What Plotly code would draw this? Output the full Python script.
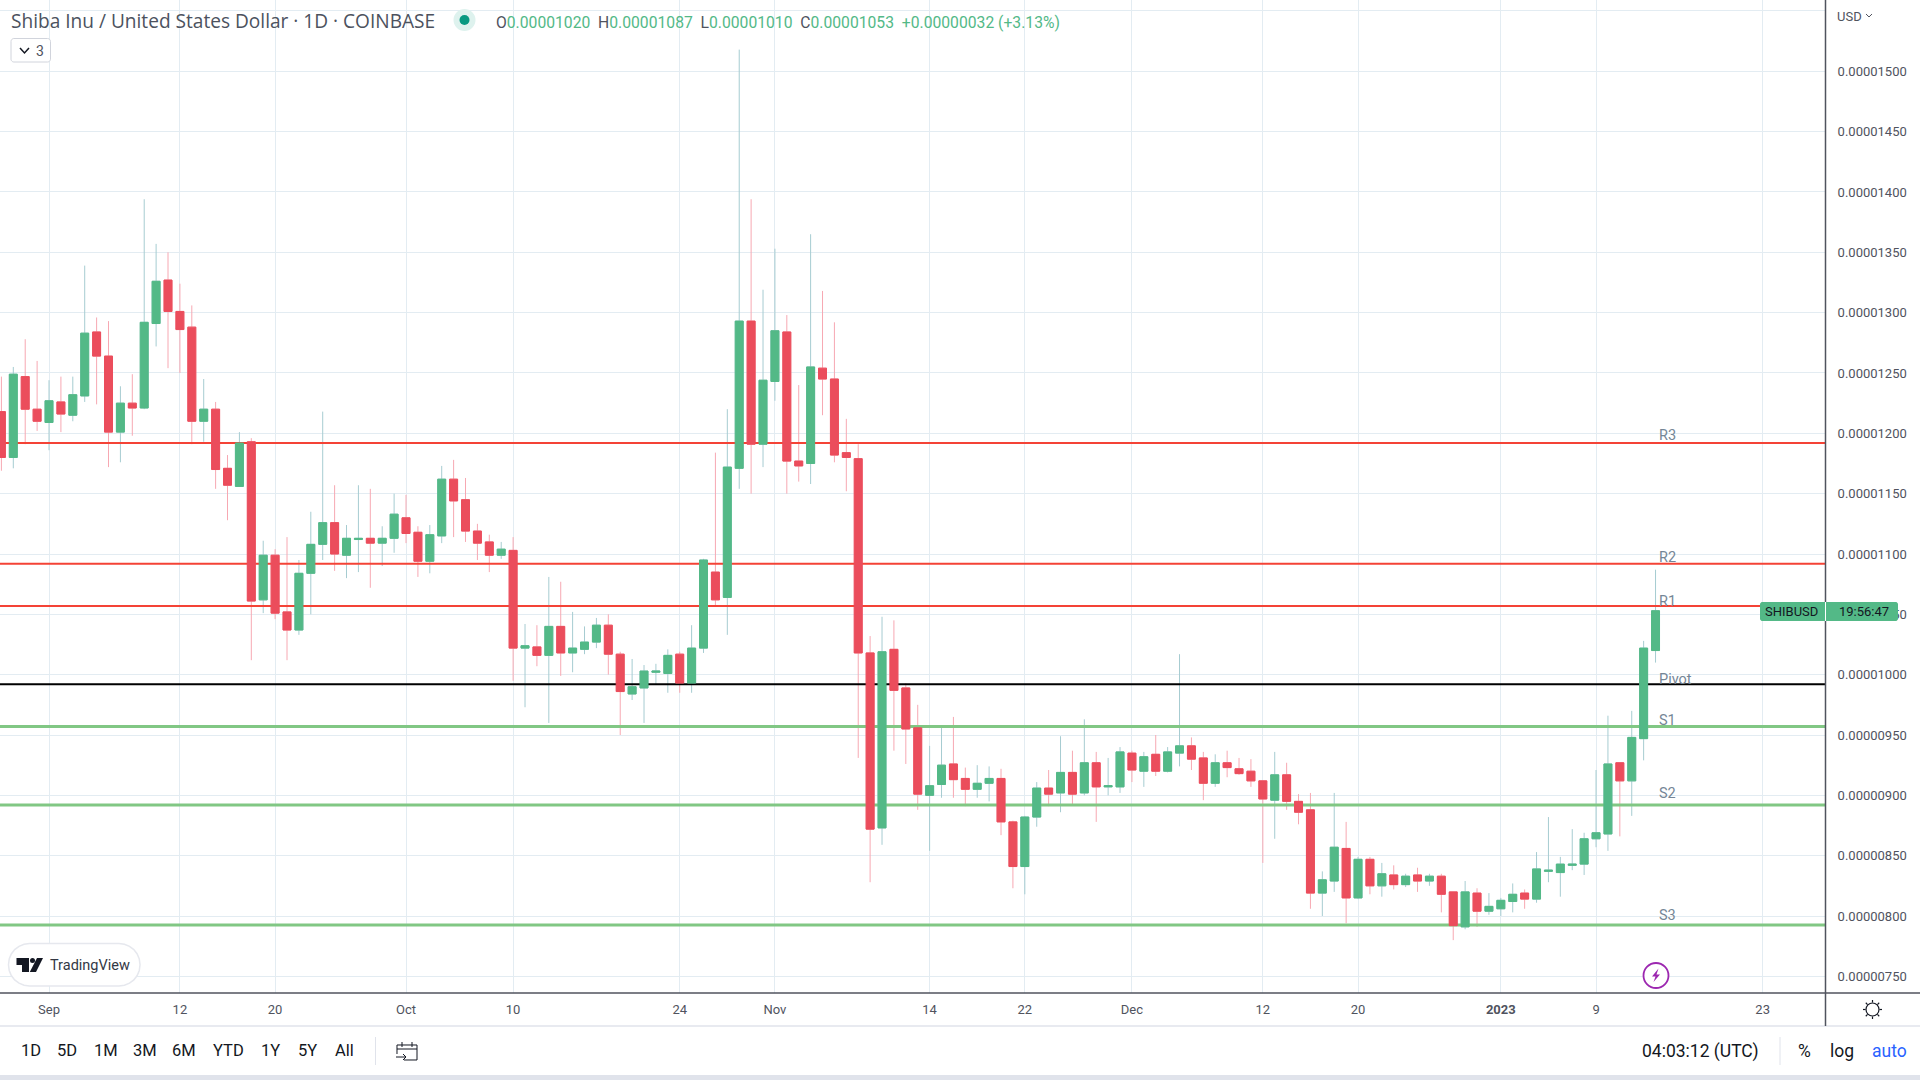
import math
import pandas as pd
import plotly.graph_objects as go

SCALE = 1e-8
FIRST_DAY = "2022-08-28"

opens = [1218,1180,1247,1220,1209,1226,1215,1231,1284,1264,1201,1225,1221,1291,1327,1301,1288,1210,1220,1171,1156,1193,
         1062,1099,1052,1037,1084,1108,1126,1099,1112,1113,1109,1113,1130,1118,1094,1115,1162,1145,1119,1110,1099,1103,
         1022,1023,1016,1040,1018,1021,1027,1041,1017,984,989,1002,1001,1017,993,1022,1085,1064,1171,1293,1191,1243,1284,
         1177,1175,1254,1245,1184,1179,1018,873,1021,989,956,900,909,926,914,905,910,914,878,841,882,906,902,919,902,927,
         907,907,935,920,934,920,935,941,931,910,927,922,920,912,896,917,895,888,819,829,856,815,847,825,834,826,834,829,
         833,820,791,819,804,806,812,819,814,837,836,842,843,864,868,927,912,947,1020]
highs = [1247,1255,1278,1260,1244,1247,1247,1339,1296,1293,1239,1249,1394,1357,1350,1324,1306,1245,1226,1182,1201,1196,
         1111,1104,1114,1095,1135,1218,1157,1124,1157,1154,1123,1150,1149,1123,1124,1173,1178,1163,1125,1116,1110,1114,
         1042,1041,1081,1077,1052,1040,1047,1050,1019,1013,1008,1009,1021,1019,1041,1096,1184,1220,1518,1394,1319,1353,1298,
         1240,1365,1318,1292,1212,1191,1032,1048,1045,993,975,941,956,965,923,925,924,922,879,883,911,921,949,937,963,936,
         931,940,937,936,950,940,1017,948,936,934,937,931,930,912,936,927,901,902,837,902,878,849,849,844,842,835,840,835,
         835,820,829,823,819,815,827,822,853,882,849,872,869,921,966,927,970,1028,1087]
lows = [1169,1171,1191,1202,1186,1201,1210,1226,1224,1172,1176,1198,1220,1272,1254,1250,1191,1193,1154,1128,1156,1012,
        1051,1046,1012,1033,1050,1095,1086,1080,1085,1072,1090,1101,1109,1081,1084,1109,1114,1110,1095,1085,1096,995,
        973,1007,960,999,1002,1017,1022,1000,950,979,960,992,985,985,985,1018,1057,1033,1154,1150,1172,1227,1150,
        1160,1158,1215,1176,1152,931,828,859,937,926,888,854,898,898,891,898,895,867,823,818,874,891,886,892,900,878,
        900,902,911,907,916,919,924,921,896,907,915,917,907,844,864,888,876,806,800,820,794,814,818,816,822,824,820,825,
        803,780,789,791,801,800,803,806,811,828,816,838,834,857,854,866,883,929,1010]
closes = [1180,1249,1220,1210,1227,1216,1232,1283,1264,1201,1225,1221,1292,1326,1301,1286,1210,1220,1170,1157,1192,1061,
          1099,1051,1037,1084,1108,1126,1100,1113,1113,1109,1113,1133,1117,1094,1116,1162,1144,1119,1109,1099,1104,1022,
          1024,1016,1040,1018,1022,1027,1041,1017,986,990,1003,1003,1016,993,1022,1095,1062,1172,1293,1191,1244,1285,1177,
          1173,1255,1245,1182,1180,1018,872,1019,987,955,901,908,925,913,905,910,914,878,841,882,906,901,919,901,927,907,
          908,936,921,932,920,936,941,930,910,927,923,918,912,897,917,895,886,819,830,857,815,847,825,835,826,833,829,833,
          818,792,820,804,808,813,818,814,839,838,843,843,864,869,926,912,948,1022,1053]

level_names = ["R3", "R2", "R1", "Pivot", "S1", "S2", "S3"]
level_values = [1192, 1092, 1057, 992, 957, 892, 792.5]
level_colors = ["#f44336", "#f44336", "#f44336", "#000000", "#81c784", "#81c784", "#81c784"]
level_widths = [2, 2, 2, 2, 3, 3, 3]
level_label_y = [435, 557, 601, 679, 720, 793, 915]

y_tick_values = [750, 800, 850, 900, 950, 1000, 1050, 1100, 1150, 1200, 1250, 1300, 1350, 1400, 1450, 1500, 1550]
y_tick_labels = ["0.00000750", "0.00000800", "0.00000850", "0.00000900", "0.00000950", "0.00001000", "0.00001050",
                 "0.00001100", "0.00001150", "0.00001200", "0.00001250", "0.00001300", "0.00001350", "0.00001400",
                 "0.00001450", "0.00001500", ""]
x_tick_dates = ["2022-09-01", "2022-09-12", "2022-09-20", "2022-10-01", "2022-10-10", "2022-10-24", "2022-11-01",
                "2022-11-14", "2022-11-22", "2022-12-01", "2022-12-12", "2022-12-20", "2023-01-01", "2023-01-09",
                "2023-01-23"]
x_tick_labels = ["Sep", "12", "20", "Oct", "10", "24", "Nov", "14", "22", "Dec", "12", "20", "<b>2023</b>", "9", "23"]
range_buttons = ["1D", "5D", "1M", "3M", "6M", "YTD", "1Y", "5Y", "All"]
range_button_x = [30.6, 67, 106, 145, 184, 228, 270, 307, 344]

X_RANGE = ["2022-08-27 21:10", "2023-01-28 05:46"]
Y_RANGE = [736.2 * SCALE, 1559.1 * SCALE]

GREEN, RED = "#53b987", "#eb4d5c"
GREEN_WICK, RED_WICK = "#a6ccd1", "#f7a8b2"
GRID, AXIS, TEXT = "#e3ecf2", "#50535e", "#50535e"
FONT = "Roboto"

W, H = 1920, 1080
PX = lambda v: v / W
PY = lambda v: 1 - v / H

dates = pd.date_range(FIRST_DAY, periods=len(opens), freq="D")
o = [v * SCALE for v in opens]
h = [v * SCALE for v in highs]
l = [v * SCALE for v in lows]
c = [v * SCALE for v in closes]
body_high = [max(a, b) for a, b in zip(o, c)]
body_low = [min(a, b) for a, b in zip(o, c)]

fig = go.Figure()

# wicks (below the level lines)
fig.add_trace(go.Candlestick(
    x=dates, open=o, high=h, low=l, close=c, whiskerwidth=0, hoverinfo="skip", showlegend=False,
    increasing=dict(line=dict(color=GREEN_WICK, width=1), fillcolor="rgba(0,0,0,0)"),
    decreasing=dict(line=dict(color=RED_WICK, width=1), fillcolor="rgba(0,0,0,0)"),
    xaxis="x", yaxis="y"))

# pivot levels
for name, val, col, lw in zip(level_names, level_values, level_colors, level_widths):
    fig.add_trace(go.Scatter(x=X_RANGE, y=[val * SCALE, val * SCALE], mode="lines", hoverinfo="skip",
                             showlegend=False, line=dict(color=col, width=lw), name=name,
                             xaxis="x", yaxis="y"))

# bodies (on top of everything, on an overlaid subplot)
fig.add_trace(go.Candlestick(
    x=dates, open=o, high=body_high, low=body_low, close=c, whiskerwidth=0, hoverinfo="skip", showlegend=False,
    increasing=dict(line=dict(color=GREEN, width=1), fillcolor=GREEN),
    decreasing=dict(line=dict(color=RED, width=1), fillcolor=RED),
    xaxis="x2", yaxis="y2"))

shapes = []
def rect(x0, y0, x1, y1, fill, line=None, lw=0):
    shapes.append(dict(type="rect", xref="paper", yref="paper", x0=PX(x0), x1=PX(x1), y0=PY(y0), y1=PY(y1),
                       fillcolor=fill, line=dict(color=line or fill, width=lw), layer="above"))
def segment(x0, y0, x1, y1, col, lw=1):
    shapes.append(dict(type="line", xref="paper", yref="paper", x0=PX(x0), x1=PX(x1), y0=PY(y0), y1=PY(y1),
                       line=dict(color=col, width=lw), layer="above"))
def circle(cx, cy, r, fill, line=None, lw=0):
    shapes.append(dict(type="circle", xref="paper", yref="paper", x0=PX(cx - r), x1=PX(cx + r),
                       y0=PY(cy + r), y1=PY(cy - r), fillcolor=fill, line=dict(color=line or fill, width=lw),
                       layer="above"))
def poly(points, fill="rgba(0,0,0,0)", line=None, lw=0, close=True):
    d = "M" + " L".join(f"{PX(x):.5f},{PY(y):.5f}" for x, y in points) + (" Z" if close else "")
    shapes.append(dict(type="path", xref="paper", yref="paper", path=d, fillcolor=fill,
                       line=dict(color=line or "rgba(0,0,0,0)", width=lw), layer="above"))
def rrect(x0, y0, x1, y1, r, fill, line=None, lw=0):
    pts = []
    corners = [(x1 - r, y0 + r, -90), (x1 - r, y1 - r, 0), (x0 + r, y1 - r, 90), (x0 + r, y0 + r, 180)]
    for cx, cy, a0 in corners:
        for k in range(7):
            a = math.radians(a0 + 15 * k)
            pts.append((cx + r * math.cos(a), cy + r * math.sin(a)))
    poly(pts, fill, line, lw)

# frame lines and bottom bars
segment(0, 993, 1920, 993, AXIS, 1.5)
segment(0, 1026, 1920, 1026, "#e0e3eb", 1.5)
segment(1825.5, 0, 1825.5, 1026, AXIS, 1.5)
rect(0, 1075, 1920, 1080, "#e0e3eb")
segment(375.5, 1037, 375.5, 1065, "#e0e3eb", 1)
segment(1780, 1037, 1780, 1065, "#e0e3eb", 1)

# status dot and legend toggle
circle(464.5, 20, 11, "#def2ee")
circle(464.5, 20, 5, "#089981")
rrect(11, 38.5, 50.5, 62, 3, "#ffffff", "#d1d4dc", 1)
poly([(20, 48), (24.5, 53), (29, 48)], line="#131722", lw=1.5, close=False)

# watermark pill with logo
rrect(8.5, 943.5, 140, 986, 21, "#ffffff", "#e6e8ee", 1.5)
poly([(16.5, 958), (29, 958), (29, 972), (22, 972), (22, 965), (16.5, 965)], fill="#131722")
circle(32.5, 960.5, 2.5, "#131722")
poly([(37, 958), (43, 958), (36, 972), (29.8, 972)], fill="#131722")

# price tag
rrect(1760, 602, 1898, 621, 2.5, GREEN)
segment(1825.5, 602, 1825.5, 621, "#ffffff", 1)

# alert icon
circle(1656, 975.5, 12.5, "#ffffff", "#9c27b0", 1.8)
poly([(1658.5, 968.5), (1652, 976.5), (1655.5, 976.5), (1653.5, 982), (1660, 974.5), (1656.5, 974.5)], fill="#9c27b0")

# USD chevron and settings icon
poly([(1866, 14), (1869, 17), (1872, 14)], line=TEXT, lw=1, close=False)
circle(1872.5, 1009.5, 6.5, "#ffffff", "#131722", 1.2)
for k in range(8):
    a = math.radians(45 * k)
    segment(1872.5 + 7 * math.cos(a), 1009.5 + 7 * math.sin(a),
            1872.5 + 9.5 * math.cos(a), 1009.5 + 9.5 * math.sin(a), "#131722", 1.2)

# calendar icon
poly([(397, 1054), (397, 1045), (417, 1045), (417, 1060), (404, 1060)], line="#131722", lw=1, close=False)
segment(397, 1049, 417, 1049, "#131722", 1)
segment(402, 1042, 402, 1047, "#131722", 1)
segment(412, 1042, 412, 1047, "#131722", 1)
segment(396, 1057, 406, 1057, "#131722", 1)
poly([(403, 1054), (406, 1057), (403, 1060)], line="#131722", lw=1, close=False)

ann = []
def text(x, y, s, size=13, color=TEXT, anchor="center", family=FONT):
    ann.append(dict(xref="paper", yref="paper", x=PX(x), y=PY(y), text=s, showarrow=False, xanchor=anchor,
                    yanchor="middle", font=dict(family=family, size=size, color=color), borderpad=0, borderwidth=0))

text(11, 20.5, "Shiba Inu / United States Dollar · 1D · COINBASE", size=19.1, color="#4c525e", anchor="left",
     family="Open Sans")
g = lambda v: f'<span style="color:#53b987">{v}</span>'
text(496, 22.5, "O" + g("0.00001020") + " &nbsp;H" + g("0.00001087") + " &nbsp;L" + g("0.00001010")
     + " &nbsp;C" + g("0.00001053") + " &nbsp;" + g("+0.00000032 (+3.13%)"), size=15.7, color="#50535e", anchor="left")
text(40, 50.5, "3", size=14, color="#50535e")
text(50, 965, "TradingView", size=14.5, color="#333844", anchor="left")
text(1837, 16, "USD", size=13, color=TEXT, anchor="left")
text(1791.5, 611.5, "SHIBUSD", size=13, color="#131722")
text(1864, 611.5, "19:56:47", size=13, color="#131722")
for lbl, x in zip(range_buttons, range_button_x):
    text(x, 1050.5, lbl, size=16.5, color="#131722")
text(1700, 1051, "04:03:12 (UTC)", size=17.5, color="#131722")
text(1804, 1051, "%", size=17.5, color="#131722")
text(1842, 1051, "log", size=17.5, color="#131722")
text(1889, 1051, "auto", size=17.5, color="#2962ff")

for name, ly in zip(level_names, level_label_y):
    text(1658.5, ly, name, size=14.5, color="#758696", anchor="left")

DOMAIN_X = [0, PX(1825)]
DOMAIN_Y = [PY(993), 1]

fig.update_layout(
    width=W, height=H, autosize=False,
    margin=dict(l=0, r=0, t=0, b=0, pad=0),
    paper_bgcolor="#ffffff", plot_bgcolor="#ffffff",
    showlegend=False, hovermode=False, boxgap=0.33, boxgroupgap=0,
    shapes=shapes, annotations=ann,
    xaxis=dict(domain=DOMAIN_X, anchor="y", type="date", range=X_RANGE, rangeslider=dict(visible=False),
               tickmode="array", tickvals=x_tick_dates, ticktext=x_tick_labels, showgrid=True, gridcolor=GRID,
               gridwidth=1, zeroline=False, showline=False, ticks="outside", ticklen=4, tickcolor="rgba(0,0,0,0)",
               tickfont=dict(family=FONT, size=13, color=TEXT), fixedrange=True, automargin=False),
    xaxis2=dict(domain=DOMAIN_X, overlaying="x", matches="x", anchor="y2", type="date", visible=False,
                rangeslider=dict(visible=False)),
    yaxis=dict(domain=DOMAIN_Y, anchor="x", side="right", range=Y_RANGE, tickmode="array",
               tickvals=[v * SCALE for v in y_tick_values], ticktext=y_tick_labels, showgrid=True, gridcolor=GRID,
               gridwidth=1, zeroline=False, showline=False, ticks="outside", ticklen=9, tickcolor="rgba(0,0,0,0)",
               tickfont=dict(family=FONT, size=13, color=TEXT), fixedrange=True, automargin=False),
    yaxis2=dict(domain=DOMAIN_Y, overlaying="y", matches="y", anchor="x2", side="right", visible=False),
)

fig.write_html("out.html", config=dict(displayModeBar=False, responsive=False),
               post_script="document.body.style.margin='0';document.body.style.overflow='hidden';")
